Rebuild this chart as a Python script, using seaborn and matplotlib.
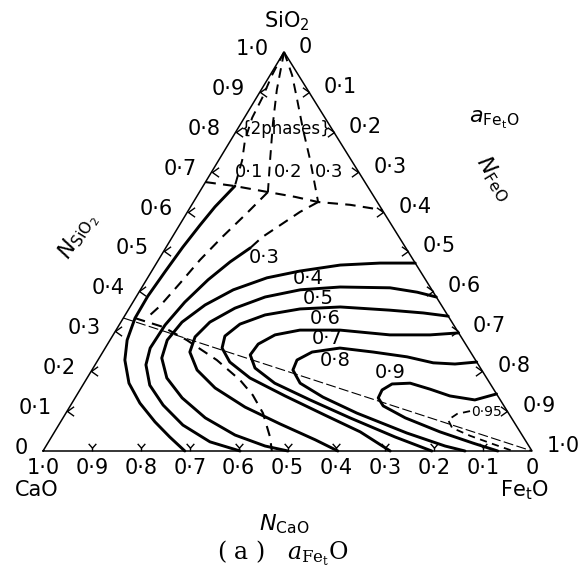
import numpy as np
import pandas as pd
import matplotlib
matplotlib.use("Agg")
import matplotlib.pyplot as plt
from matplotlib.path import Path
import seaborn as sns

# Compositions are given as (N_SiO2, N_FeO); N_CaO = 1 - N_SiO2 - N_FeO.

# SiO2 saturation boundary of the liquid
sio2_sat = [(0.674, 0.0), (0.664, 0.065), (0.649, 0.140), (0.637, 0.201),
            (0.624, 0.255), (0.617, 0.324), (0.604, 0.396)]

# iso-activity lines across the two-phase field (liquid + SiO2)
tie_01 = [(1.0, 0.0), (0.942, 0.004), (0.885, 0.012), (0.835, 0.016),
          (0.779, 0.029), (0.729, 0.048), (0.664, 0.065)]
tie_02 = [(1.0, 0.0), (0.905, 0.032), (0.822, 0.065), (0.729, 0.105), (0.649, 0.140)]
tie_03 = [(1.0, 0.0), (0.942, 0.045), (0.880, 0.086), (0.805, 0.135),
          (0.729, 0.187), (0.624, 0.255)]

# liquid boundary on the CaO-rich side
liquid_edge = [(0.664, 0.065), (0.612, 0.050), (0.566, 0.042), (0.511, 0.034),
               (0.449, 0.028), (0.388, 0.023), (0.333, 0.024), (0.278, 0.035),
               (0.228, 0.055), (0.170, 0.092), (0.120, 0.139), (0.073, 0.193),
               (0.035, 0.242), (0.0, 0.290)]

# 2CaO.SiO2 saturation boundary and the 2CaO.SiO2 - FeO join
c2s_sat = [(0.333, 0.024), (0.311, 0.092), (0.278, 0.157), (0.228, 0.243),
           (0.178, 0.315), (0.140, 0.360), (0.095, 0.403), (0.035, 0.447), (0.0, 0.468)]
c2s_feo_join = [(1 / 3, 0.0), (0.0, 1.0)]

# a_FeO iso-activity lines in the liquid
iso_02_ext = [(0.649, 0.140), (0.596, 0.123), (0.536, 0.102), (0.479, 0.085),
              (0.421, 0.073), (0.363, 0.060), (0.341, 0.051)]
iso_03_ext = [(0.624, 0.255), (0.599, 0.230), (0.566, 0.206), (0.536, 0.184), (0.509, 0.173)]
iso_03 = [(0.509, 0.173), (0.474, 0.149), (0.429, 0.126), (0.373, 0.106), (0.316, 0.094),
          (0.258, 0.092), (0.216, 0.104), (0.165, 0.137), (0.115, 0.189), (0.065, 0.254),
          (0.023, 0.330), (0.0, 0.403)]
iso_04 = [(0.471, 0.529), (0.471, 0.457), (0.466, 0.378), (0.451, 0.303), (0.434, 0.244),
          (0.404, 0.190), (0.366, 0.151), (0.323, 0.125), (0.278, 0.117), (0.233, 0.128),
          (0.183, 0.163), (0.133, 0.219), (0.083, 0.291), (0.040, 0.373), (0.0125, 0.448),
          (0.0, 0.501)]
iso_05 = [(0.386, 0.614), (0.398, 0.569), (0.409, 0.508), (0.411, 0.405), (0.404, 0.327),
          (0.386, 0.264), (0.358, 0.216), (0.323, 0.182), (0.286, 0.170), (0.248, 0.178),
          (0.203, 0.215), (0.158, 0.274), (0.110, 0.359), (0.068, 0.451), (0.028, 0.543),
          (0.0, 0.603)]
iso_06 = [(0.338, 0.662), (0.346, 0.607), (0.353, 0.535), (0.361, 0.430), (0.356, 0.350),
          (0.341, 0.286), (0.318, 0.246), (0.288, 0.230), (0.258, 0.239), (0.223, 0.272),
          (0.183, 0.333), (0.138, 0.427), (0.090, 0.532), (0.048, 0.625), (0.0, 0.710)]
iso_07 = [(0.296, 0.704), (0.291, 0.648), (0.291, 0.566), (0.303, 0.458), (0.303, 0.376),
          (0.291, 0.331), (0.268, 0.308), (0.241, 0.305), (0.208, 0.331), (0.170, 0.390),
          (0.128, 0.483), (0.083, 0.587), (0.035, 0.703), (0.0, 0.795)]
iso_08 = [(0.223, 0.777), (0.218, 0.735), (0.221, 0.689), (0.236, 0.628), (0.248, 0.553),
          (0.258, 0.480), (0.248, 0.428), (0.228, 0.407), (0.203, 0.411), (0.170, 0.442),
          (0.135, 0.506), (0.095, 0.595), (0.045, 0.722), (0.0125, 0.816), (0.0, 0.863)]
iso_09 = [(0.143, 0.857), (0.128, 0.820), (0.138, 0.764), (0.155, 0.715), (0.170, 0.667),
          (0.168, 0.631), (0.153, 0.618), (0.133, 0.620), (0.113, 0.640), (0.083, 0.700),
          (0.048, 0.788), (0.020, 0.869), (0.0, 0.930)]
iso_095 = [(0.100, 0.824), (0.093, 0.801), (0.078, 0.790), (0.058, 0.808), (0.038, 0.855),
           (0.018, 0.910), (0.0, 0.961)]

# scale values along each side
side_ticks = [0.0, 0.1, 0.2, 0.3, 0.4, 0.5, 0.6, 0.7, 0.8, 0.9, 1.0]


def tick_text(v):
    if v == 0:
        return "0"
    return f"{v:.1f}".replace(".", "\u00b7")


# ---------------------------------------------------------------- figure
sns.set_theme(style="white")
plt.rcParams["font.family"] = ["DejaVu Sans"]
plt.rcParams["mathtext.fontset"] = "dejavusans"
plt.rcParams["text.color"] = "black"

W, H = 579, 577
X0, Y0, SX, SY = 43, 451, 489, 399   # CaO corner and triangle size in pixels
APEX_X = 0.493                       # horizontal position of the SiO2 apex

fig = plt.figure(figsize=(W / 100, H / 100), dpi=100)
ax = fig.add_axes([0, 0, 1, 1])
ax.set_xlim(-X0 / SX, (W - X0) / SX)
ax.set_ylim((Y0 - H) / SY, Y0 / SY)
ax.axis("off")


def tern(points):
    arr = np.asarray(points, dtype=float)
    sio2, feo = arr[:, 0], arr[:, 1]
    return pd.DataFrame({"x": feo + APEX_X * sio2, "y": sio2})


def to_px(x, y):
    return X0 + SX * x, Y0 - SY * y


def px(xp, yp):
    return (xp - X0) / SX, (Y0 - yp) / SY


def draw(points, lw, ls="-"):
    sns.lineplot(data=tern(points), x="x", y="y", sort=False, estimator=None,
                 color="black", lw=lw, linestyle=ls, ax=ax,
                 solid_joinstyle="round", solid_capstyle="round")


# triangle outline
draw([(0, 0), (0, 1), (1, 0), (0, 0)], 1.1)

DASH = (0, (5, 3.5))
draw(sio2_sat, 1.5, DASH)
for t in (tie_01, tie_02, tie_03):
    draw(t, 1.4, DASH)
draw(c2s_sat, 1.5, DASH)
draw(c2s_feo_join, 0.8, (0, (9, 3)))
draw(iso_02_ext, 1.5, DASH)
draw(iso_03_ext, 1.5, DASH)
draw(iso_095, 1.3, (0, (4, 3)))

draw(liquid_edge, 2.1)
for iso in (iso_03, iso_04, iso_05, iso_06, iso_07, iso_08, iso_09):
    draw(iso, 2.1)

# tick marks on the three sides
chev_left = Path([(1.4, 1), (0, 0), (1.4, -1)], [Path.MOVETO, Path.LINETO, Path.LINETO])
chev_right = Path([(-1.4, 1), (0, 0), (-1.4, -1)], [Path.MOVETO, Path.LINETO, Path.LINETO])
fork_base = Path([(-0.8, 1.6), (0, 0.7), (0.8, 1.6), (0, 0.7), (0, 0)],
                 [Path.MOVETO, Path.LINETO, Path.LINETO, Path.MOVETO, Path.LINETO])
inner = np.array(side_ticks[1:-1])
left_pts = tern(np.column_stack([inner, np.zeros_like(inner)]))
right_pts = tern(np.column_stack([1 - inner, inner]))
base_pts = tern(np.column_stack([np.zeros_like(inner), 1 - inner]))
mk = dict(linestyle="none", mfc="none", mec="black", mew=1.0)
ax.plot(left_pts.x, left_pts.y, marker=chev_left, ms=9.5, **mk)
ax.plot(right_pts.x, right_pts.y, marker=chev_right, ms=9.5, **mk)
ax.plot(base_pts.x, base_pts.y, marker=fork_base, ms=11, **mk)

# scale labels
FS = 15
for v in side_ticks:
    # N_SiO2 on the left side
    xp, yp = to_px(APEX_X * v, v)
    ax.text(*px(xp - 15, yp - 3), tick_text(v), ha="right", va="center", fontsize=FS)
    # N_FeO on the right side
    xp, yp = to_px(v + APEX_X * (1 - v), 1 - v)
    ax.text(*px(xp + 15, yp - 5), tick_text(v), ha="left", va="center", fontsize=FS)
    # N_CaO along the base
    xp, yp = to_px(1 - v, 0)
    ax.text(*px(xp, yp + 17), tick_text(v), ha="center", va="center", fontsize=FS)

# component and axis names
ax.text(*px(287, 21), "SiO$_2$", ha="center", va="center", fontsize=15)
ax.text(*px(37, 490), "CaO", ha="center", va="center", fontsize=15)
ax.text(*px(524, 490), "Fe$_\\mathrm{t}$O", ha="center", va="center", fontsize=15)
ax.text(*px(284, 524), "$N_{\\mathrm{CaO}}$", ha="center", va="center", fontsize=16)
ax.text(*px(78, 236), "$N_{\\mathrm{SiO_2}}$", ha="center", va="center", fontsize=16,
        rotation=58)
ax.text(*px(494, 178), "$N_{\\mathrm{FeO}}$", ha="center", va="center", fontsize=16,
        rotation=-58)
ax.text(*px(494, 120), "$a_{\\mathrm{Fe_tO}}$", ha="center", va="center", fontsize=16)

# two-phase field
ax.text(*px(286, 129), "{2phases}", ha="center", va="center", fontsize=12)
for txt, (xp, yp) in zip(["0\u00b71", "0\u00b72", "0\u00b73"],
                         [(249, 172), (288, 172), (329, 172)]):
    ax.text(*px(xp, yp), txt, ha="center", va="center", fontsize=13)

# iso-activity labels
iso_labels = ["0\u00b73", "0\u00b74", "0\u00b75", "0\u00b76", "0\u00b77", "0\u00b78", "0\u00b79"]
iso_label_px = [(264, 258), (308, 279), (318, 299), (325, 318), (327, 339), (335, 361), (390, 373)]
for txt, (xp, yp) in zip(iso_labels, iso_label_px):
    ax.text(*px(xp, yp), txt, ha="center", va="center", fontsize=14)
ax.text(*px(486, 412), "0\u00b795", ha="center", va="center", fontsize=10)

# caption
ax.text(*px(283, 553), "( a )   $a_{\\mathrm{Fe_t}}$O", ha="center", va="center",
        fontsize=17, family="DejaVu Serif", math_fontfamily="dejavuserif")

fig.savefig("out.png", dpi=100)
